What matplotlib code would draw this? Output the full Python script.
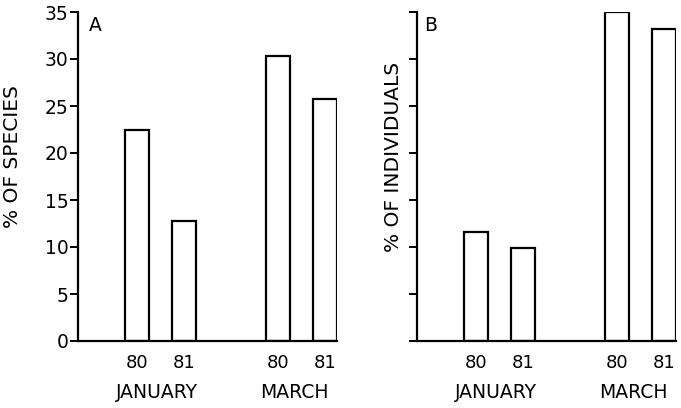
import matplotlib
matplotlib.use("Agg")
import matplotlib.pyplot as plt

# bar positions: January 80/81, gap, March 80/81
positions = [0, 1, 3, 4]
year_labels = ["80", "81", "80", "81"]
months = ["JANUARY", "MARCH"]
month_centers = [0.42, 3.36]

species_pct = [22.5, 12.8, 30.3, 25.7]       # panel A
individuals_pct = [11.6, 9.9, 35.0, 33.2]    # panel B

plt.rcParams['font.family'] = ['DejaVu Sans']

fig = plt.figure(figsize=(6.81, 4.08), dpi=100)
W, H = 681, 408


def make_panel(left_px, values, letter, ylabel, show_yticklabels, ylab_x, letter_x):
    ax = fig.add_axes([left_px / W, (H - 341) / H, 258.5 / W, 329 / H])
    ax.bar(positions, values, width=0.5, facecolor='white',
           edgecolor='black', linewidth=1.6)
    ax.set_xlim(-1.25, 4.25)
    ax.set_ylim(0, 35)
    for s in ['top', 'right']:
        ax.spines[s].set_visible(False)
    for s in ['left', 'bottom']:
        ax.spines[s].set_linewidth(1.6)
    ax.set_yticks(range(0, 36, 5))
    ax.tick_params(axis='y', length=6, width=1.4, pad=1, labelsize=13.5)
    if not show_yticklabels:
        ax.set_yticklabels([])
    ax.set_xticks(positions)
    ax.set_xticklabels(year_labels, fontsize=13)
    ax.tick_params(axis='x', length=0, pad=9)
    for m, c in zip(months, month_centers):
        ax.annotate(m, xy=(c, 0), xycoords=('data', 'axes fraction'),
                    xytext=(0, -52), textcoords='offset pixels',
                    ha='center', va='center', fontsize=13.5)
    ax.set_ylabel(ylabel, fontsize=14.5)
    ax.yaxis.set_label_coords(ylab_x, 0.56)
    ax.text(letter_x, 0.96, letter, transform=ax.transAxes,
            ha='center', va='center', fontsize=13.5)
    return ax


make_panel(78, species_pct, "A", "% OF SPECIES", True, -0.215, 0.066)
make_panel(417, individuals_pct, "B", "% OF INDIVIDUALS", False, -0.054, 0.054)

fig.savefig("out.png", dpi=100)
